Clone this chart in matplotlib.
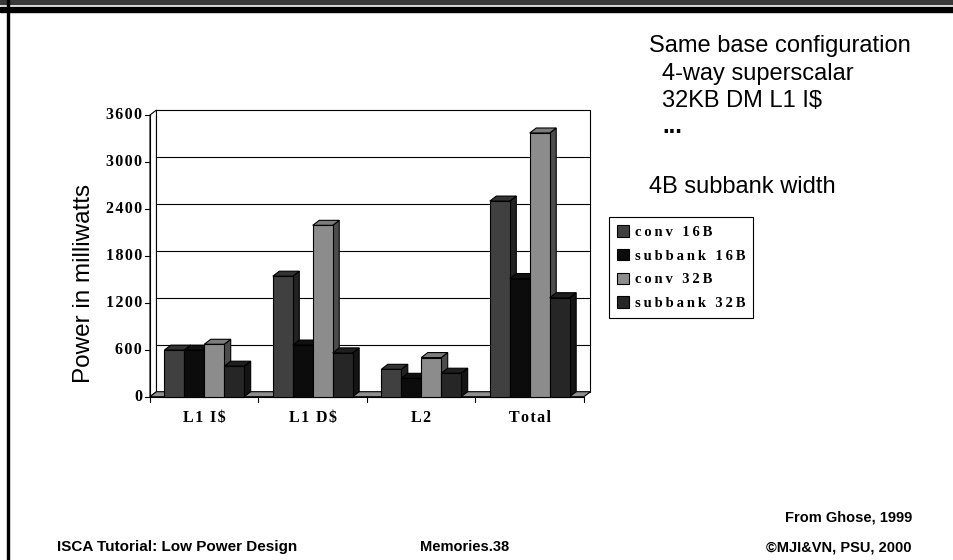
import matplotlib
matplotlib.use("Agg")
import matplotlib.pyplot as plt
from matplotlib.patches import Polygon, Rectangle, Patch

categories = ["L1 I$", "L1 D$", "L2", "Total"]
series_names = ["conv 16B", "subbank 16B", "conv 32B", "subbank 32B"]
conv_16b = [595, 1540, 350, 2500]
subbank_16b = [595, 660, 235, 1510]
conv_32b = [670, 2190, 500, 3370]
subbank_32b = [390, 560, 300, 1265]
y_ticks = [0, 600, 1200, 1800, 2400, 3000, 3600]

notes = ["Same base configuration", "4-way superscalar", "32KB DM L1 I$", "...", "4B subbank width"]

front_colors = ["#404040", "#0c0c0c", "#8c8c8c", "#262626"]
top_colors = ["#333333", "#111111", "#7c7c7c", "#1e1e1e"]
side_colors = ["#222222", "#050505", "#4c4c4c", "#141414"]

W, H = 954, 560


def fx(x):
    return x / W


def fy(y):
    return 1 - y / H


def spaced(s, gap="\u2009"):
    # wide letter spacing of the original chart fonts
    return gap.join(s)


serif = dict(family=["Liberation Serif", "DejaVu Serif"], weight="bold")
sans = ["Liberation Sans", "DejaVu Sans"]

fig = plt.figure(figsize=(W / 100, H / 100), dpi=100)

# slide decoration
fig.patches.append(Rectangle((0, fy(3.5)), 1, 3.5 / H, transform=fig.transFigure, color="#3a3a3a"))
fig.patches.append(Rectangle((0, fy(11.7)), 1, 5 / H, transform=fig.transFigure, color="black"))
fig.patches.append(Rectangle((fx(6.7), 0), 2.3 / W, 1, transform=fig.transFigure, color="black"))

ax = fig.add_axes([fx(150), fy(396.7), 434 / W, 281.7 / H])
ax.set_xlim(0, len(categories))
ax.set_ylim(0, y_ticks[-1])
ax.axis("off")

ncat = len(categories)
ymax = y_ticks[-1]
px_x = ncat / 434.0
px_y = ymax / 281.7
DX = 6.5 * px_x
DY = 5 * px_y
BW = 0.184
lw = 0.8

# walls and floor
ax.add_patch(Polygon([(0, 0), (DX, DY), (DX, ymax + DY), (0, ymax)], closed=True,
                     facecolor="white", edgecolor="black", lw=lw, clip_on=False, zorder=1))
ax.add_patch(Rectangle((DX, DY), ncat, ymax, facecolor="white", edgecolor="black",
                       lw=lw, clip_on=False, zorder=1))
for v in y_ticks[1:-1]:
    ax.plot([DX, ncat + DX], [v + DY, v + DY], color="black", lw=lw, zorder=1.5, clip_on=False)
ax.add_patch(Polygon([(0, 0), (ncat, 0), (ncat + DX, DY), (DX, DY)], closed=True,
                     facecolor="#8f8f8f", edgecolor="black", lw=lw, clip_on=False, zorder=2))

# front axes
ax.plot([0, 0], [0, ymax], color="black", lw=lw, clip_on=False, zorder=2)
ax.plot([0, ncat], [0, 0], color="black", lw=lw, clip_on=False, zorder=2)
for v in y_ticks:
    ax.plot([-5 * px_x, 0], [v, v], color="black", lw=lw, clip_on=False)
    ax.text(-8 * px_x, v, spaced(str(v), "\u200a"), ha="right", va="center",
            fontsize=11.5, **serif)
for i in range(ncat + 1):
    ax.plot([i, i], [0, -5 * px_y], color="black", lw=lw, clip_on=False)
for i, c in enumerate(categories):
    ax.text(i + 0.5, -21.5 * px_y, spaced(c, "\u200a"), ha="center", va="center",
            fontsize=11.5, **serif)

# 3D-look bars
series = [conv_16b, subbank_16b, conv_32b, subbank_32b]
z = 3
for i in range(ncat):
    for j, vals in enumerate(series):
        h = vals[i]
        x0 = i + 0.5 + (j - 2) * BW
        side = [(x0 + BW, 0), (x0 + BW + DX, DY), (x0 + BW + DX, h + DY), (x0 + BW, h)]
        top = [(x0, h), (x0 + BW, h), (x0 + BW + DX, h + DY), (x0 + DX, h + DY)]
        front = [(x0, 0), (x0 + BW, 0), (x0 + BW, h), (x0, h)]
        for pts, col in ((side, side_colors[j]), (top, top_colors[j]), (front, front_colors[j])):
            ax.add_patch(Polygon(pts, closed=True, facecolor=col, edgecolor="black",
                                 lw=lw, clip_on=False, zorder=z))
            z += 0.01

handles = [Patch(facecolor=front_colors[j], edgecolor="black", lw=lw) for j in range(len(series_names))]
leg = ax.legend(handles, [spaced(s) for s in series_names], loc="upper left",
                bbox_to_anchor=(fx(609), fy(217)), bbox_transform=fig.transFigure,
                borderaxespad=0, borderpad=0.55, handlelength=0.85, handleheight=0.85,
                handletextpad=0.35, labelspacing=0.68, frameon=True, fancybox=False,
                edgecolor="black", framealpha=1, prop=dict(size=10.5, **serif))
leg.get_frame().set_linewidth(lw)

# slide text
note_pos = [(649, 52), (662, 80), (662, 107), (662, 133), (649, 193)]
for t, (x, y) in zip(notes, note_pos):
    fig.text(fx(x), fy(y), t, ha="left", va="baseline", fontsize=17, family=sans,
             weight="bold" if t == "..." else "normal")

fig.text(fx(84), fy(283), "Power in milliwatts", rotation=90, ha="center", va="center",
         fontsize=17.5, family=sans)

fig.text(fx(912), fy(521), "From Ghose, 1999", ha="right", va="baseline", fontsize=10.5,
         family=sans, weight="bold")
fig.text(fx(57), fy(551), "ISCA Tutorial: Low Power Design", ha="left", va="baseline",
         fontsize=11, family=sans, weight="bold")
fig.text(fx(465), fy(551), "Memories.38", ha="center", va="baseline", fontsize=10.5,
         family=sans, weight="bold")
fig.text(fx(912), fy(551), "\u00a9MJI&VN, PSU, 2000", ha="right", va="baseline", fontsize=10.5,
         family=sans, weight="bold")

fig.savefig("out.png", dpi=100)
